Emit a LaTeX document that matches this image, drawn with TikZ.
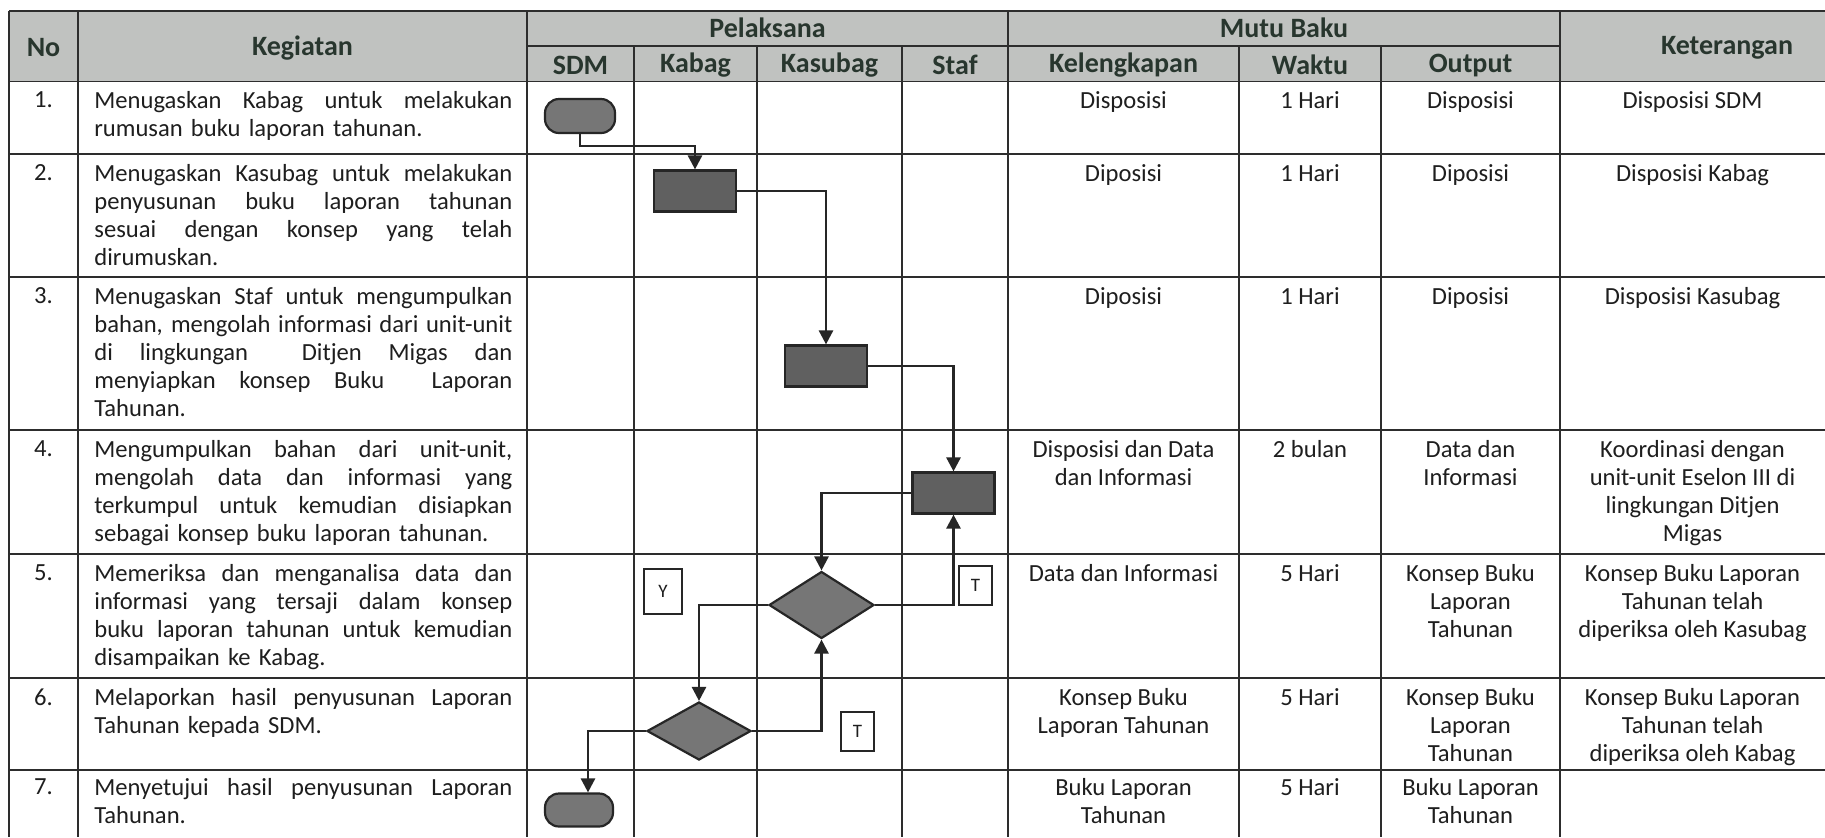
\documentclass[tikz,border=0pt]{standalone}
\usepackage{fontspec}
\setmainfont{Carlito}
\usetikzlibrary{arrows.meta,shapes.geometric,calc}
\definecolor{hdr}{RGB}{192,194,192}
\definecolor{hdrtxt}{RGB}{40,54,46}
\definecolor{txt}{RGB}{30,30,30}
\definecolor{ln}{RGB}{45,45,45}
\definecolor{shpfill}{RGB}{118,118,118}
\definecolor{procfill}{RGB}{96,96,96}
\newcommand{\jl}[1]{\leavevmode\hbox to 209pt{\spaceskip=0.22em plus 1fil\relax #1}}
\begin{document}
\begin{tikzpicture}[x=0.5pt,y=-0.5pt,
  grid/.style={draw=ln,line width=0.9pt},
  hd/.style={font=\fontsize{14}{15}\selectfont\bfseries,text=hdrtxt,inner sep=0pt},
  kg/.style={anchor=north west,inner sep=0pt,text width=209pt,align=left,font=\fontsize{12.3}{14}\selectfont,text=txt},
  cc/.style={anchor=north,inner sep=0pt,align=center,font=\fontsize{12.3}{14}\selectfont,text=txt},
  term/.style={draw=black!85,line width=1.1pt,fill=shpfill,rectangle,rounded corners=7pt,inner sep=0pt},
  proc/.style={draw=black!85,line width=1.1pt,fill=procfill,rectangle,inner sep=0pt,minimum width=41pt,minimum height=20.5pt},
  dec/.style={draw=black!85,line width=1.1pt,fill=shpfill,diamond,inner sep=0pt},
  lbl/.style={draw=black!85,line width=0.9pt,fill=white,inner sep=0pt,font=\fontsize{9.5}{10}\selectfont,text=txt},
  conn/.style={draw=black!85,line width=1.3pt,-{Triangle[length=7pt,width=7pt]}}
]
\useasboundingbox (0,0) rectangle (1825,837);
\fill[white] (0,0) rectangle (1825,837);
% header background
\fill[hdr] (9,11) rectangle (1825,81.5);
% grid lines
\draw[grid] (9,11) -- (1825,11);
\draw[grid] (527,46) -- (1560,46);
\draw[grid] (9,81.5) -- (1825,81.5);
\foreach \yy in {154,277,430,554,678,770} {\draw[grid] (9,\yy) -- (1825,\yy);}
\foreach \xx in {9,78,527,1008,1560} {\draw[grid] (\xx,11) -- (\xx,837);}
\foreach \xx in {634,757,902,1239,1381} {\draw[grid] (\xx,46) -- (\xx,837);}
% header texts
\node[hd] (hNo) at (43.5,48) {No};
\node[hd] (hKeg) at (302.5,48) {Kegiatan};
\node[hd] (hPel) at (767.5,28) {Pelaksana};
\node[hd] (hSDM) at (580.5,65) {SDM};
\node[hd] (hKab) at (695.5,65) {Kabag};
\node[hd] (hKas) at (829.5,65) {Kasubag};
\node[hd] (hStf) at (955,65) {Staf};
\node[hd] (hMutu) at (1284,28) {Mutu Baku};
\node[hd] (hKel) at (1123.5,65) {Kelengkapan};
\node[hd] (hWak) at (1310,65) {Waktu};
\node[hd] (hOut) at (1470.5,66) {Output};
\node[hd] (hKet) at (1727,48) {Keterangan};
% row 1
\node[cc] (n1) at (43.5,91.5) {1.};
\node[kg] (k1) at (94,91.5) {\jl{Menugaskan Kabag untuk melakukan}\\rumusan buku laporan tahunan.};
\node[cc] (l1) at (1123.5,91.5) {Disposisi};
\node[cc] (w1) at (1310,91.5) {1 Hari};
\node[cc] (o1) at (1470.5,91.5) {Disposisi};
\node[cc] (t1) at (1692.5,91.5) {Disposisi SDM};
% row 2
\node[cc] (n2) at (43.5,164) {2.};
\node[kg] (k2) at (94,164) {\jl{Menugaskan Kasubag untuk melakukan}\\\jl{penyusunan buku laporan tahunan}\\\jl{sesuai dengan konsep yang telah}\\dirumuskan.};
\node[cc] (l2) at (1123.5,164) {Diposisi};
\node[cc] (w2) at (1310,164) {1 Hari};
\node[cc] (o2) at (1470.5,164) {Diposisi};
\node[cc] (t2) at (1692.5,164) {Disposisi Kabag};
% row 3
\node[cc] (n3) at (43.5,287) {3.};
\node[kg] (k3) at (94,287) {\jl{Menugaskan Staf untuk mengumpulkan}\\\jl{bahan, mengolah informasi dari unit-unit}\\\jl{di lingkungan\ \ Ditjen Migas dan}\\\jl{menyiapkan konsep Buku\ \ Laporan}\\Tahunan.};
\node[cc] (l3) at (1123.5,287) {Diposisi};
\node[cc] (w3) at (1310,287) {1 Hari};
\node[cc] (o3) at (1470.5,287) {Diposisi};
\node[cc] (t3) at (1692.5,287) {Disposisi Kasubag};
% row 4
\node[cc] (n4) at (43.5,440) {4.};
\node[kg] (k4) at (94,440) {\jl{Mengumpulkan bahan dari unit-unit,}\\\jl{mengolah data dan informasi yang}\\\jl{terkumpul untuk kemudian disiapkan}\\sebagai konsep buku laporan tahunan.};
\node[cc] (l4) at (1123.5,440) {Disposisi dan Data\\dan Informasi};
\node[cc] (w4) at (1310,440) {2 bulan};
\node[cc] (o4) at (1470.5,440) {Data dan\\Informasi};
\node[cc] (t4) at (1692.5,440) {Koordinasi dengan\\unit-unit Eselon III di\\lingkungan Ditjen\\Migas};
% row 5
\node[cc] (n5) at (43.5,564) {5.};
\node[kg] (k5) at (94,564) {\jl{Memeriksa dan menganalisa data dan}\\\jl{informasi yang tersaji dalam konsep}\\\jl{buku laporan tahunan untuk kemudian}\\disampaikan ke Kabag.};
\node[cc] (l5) at (1123.5,564) {Data dan Informasi};
\node[cc] (w5) at (1310,564) {5 Hari};
\node[cc] (o5) at (1470.5,564) {Konsep Buku\\Laporan\\Tahunan};
\node[cc] (t5) at (1692.5,564) {Konsep Buku Laporan\\Tahunan telah\\diperiksa oleh Kasubag};
% row 6
\node[cc] (n6) at (43.5,688) {6.};
\node[kg] (k6) at (94,688) {\jl{Melaporkan hasil penyusunan Laporan}\\Tahunan kepada SDM.};
\node[cc] (l6) at (1123.5,688) {Konsep Buku\\Laporan Tahunan};
\node[cc] (w6) at (1310,688) {5 Hari};
\node[cc] (o6) at (1470.5,688) {Konsep Buku\\Laporan\\Tahunan};
\node[cc] (t6) at (1692.5,688) {Konsep Buku Laporan\\Tahunan telah\\diperiksa oleh Kabag};
% row 7
\node[cc] (n7) at (43.5,778) {7.};
\node[kg] (k7) at (94,778) {\jl{Menyetujui hasil penyusunan Laporan}\\Tahunan.};
\node[cc] (l7) at (1123.5,778) {Buku Laporan\\Tahunan};
\node[cc] (w7) at (1310,778) {5 Hari};
\node[cc] (o7) at (1470.5,778) {Buku Laporan\\Tahunan};
% flowchart shapes
\node[term,minimum width=35pt,minimum height=17pt] (start) at (580,116) {};
\node[proc] (kabag) at (695,191) {};
\node[proc] (kasubag) at (826,366) {};
\node[proc] (staf) at (953.5,493) {};
\node[dec,minimum width=52.5pt,minimum height=33.5pt] (d1) at (821.5,605) {};
\node[dec,minimum width=52pt,minimum height=29pt] (d2) at (699,731) {};
\node[term,minimum width=34pt,minimum height=16.5pt] (finish) at (579,810) {};
\node[lbl,minimum width=19pt,minimum height=22.5pt] (ly) at (663,591.5) {Y};
\node[lbl,minimum width=16.5pt,minimum height=19.5pt] (lt1) at (975.5,585.5) {T};
\node[lbl,minimum width=16.5pt,minimum height=19.5pt] (lt2) at (857.5,731.5) {T};
% connectors
\draw[conn] (start.south) -- ++(0,12) -| (kabag.north);
\draw[conn] (kabag.east) -| (kasubag.north);
\draw[conn] (kasubag.east) -| (staf.north);
\draw[conn] (staf.west) -| (d1.north);
\draw[conn] (d1.east) -| (staf.south);
\draw[conn] (d1.west) -| (d2.north);
\draw[conn] (d2.east) -| (d1.south);
\draw[conn] (d2.west) -| ([xshift=4.5pt]finish.north);
\end{tikzpicture}
\end{document}
